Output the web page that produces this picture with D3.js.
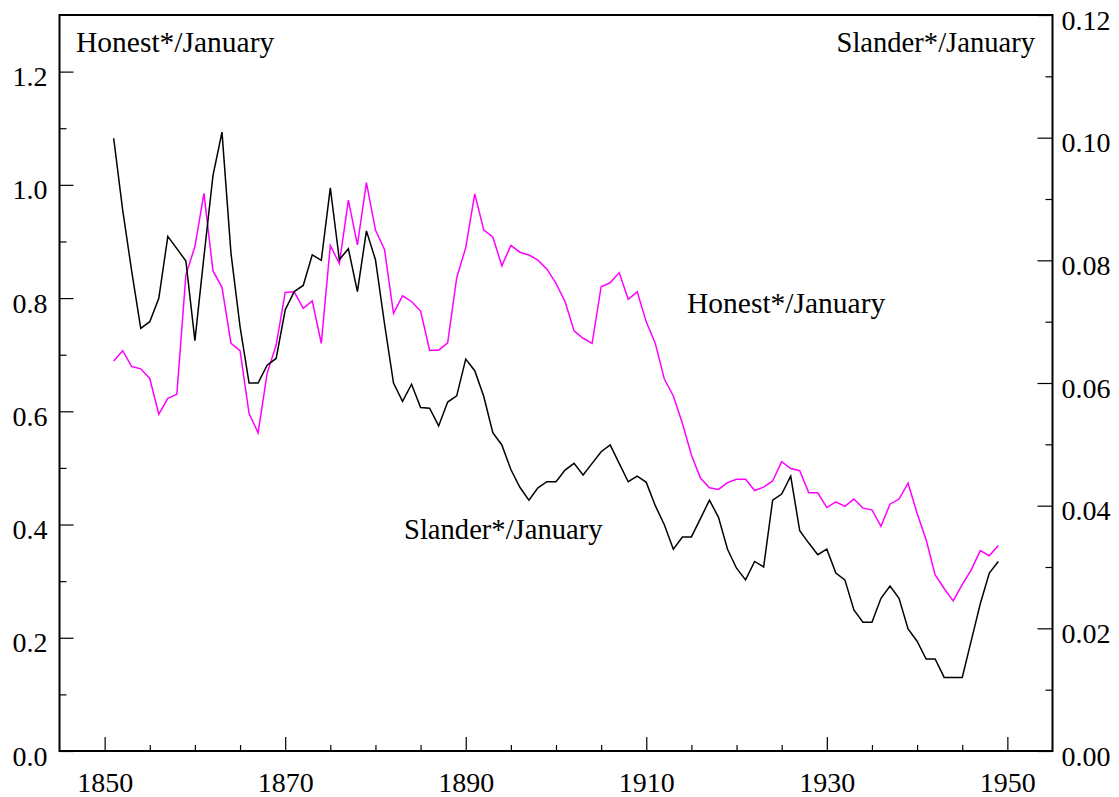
<!DOCTYPE html>
<html>
<head>
<meta charset="utf-8">
<script src="https://cdn.jsdelivr.net/npm/d3@7"></script>
<style>
  html, body { margin: 0; padding: 0; background: #fff; }
  svg { display: block; }
  text { font-family: "Liberation Serif", "Times New Roman", serif; fill: #000; }
</style>
</head>
<body>
<svg id="chart" width="1119" height="797"></svg>
<script>
// ---- data ----
const years = d3.range(1851, 1950);

// Honest*/January (left axis, magenta)
const honest = [
  0.689, 0.707, 0.679, 0.675, 0.658, 0.595, 0.623, 0.630, 0.841, 0.891,
  0.985, 0.848, 0.819, 0.720, 0.707, 0.596, 0.562, 0.667, 0.717, 0.810,
  0.811, 0.782, 0.795, 0.720, 0.893, 0.861, 0.973, 0.894, 1.004, 0.920,
  0.886, 0.773, 0.804, 0.794, 0.777, 0.708, 0.708, 0.721, 0.836, 0.889,
  0.984, 0.920, 0.908, 0.857, 0.893, 0.881, 0.876, 0.867, 0.851, 0.826,
  0.794, 0.742, 0.729, 0.720, 0.820, 0.827, 0.845, 0.798, 0.811, 0.758,
  0.720, 0.657, 0.627, 0.579, 0.523, 0.482, 0.465, 0.462, 0.474, 0.480,
  0.480, 0.460, 0.466, 0.477, 0.511, 0.499, 0.495, 0.456, 0.456, 0.430,
  0.440, 0.432, 0.445, 0.429, 0.426, 0.397, 0.436, 0.445, 0.473, 0.420,
  0.373, 0.311, 0.287, 0.265, 0.294, 0.320, 0.354, 0.345, 0.363
];

// Slander*/January (right axis, black)
const slander = [
  0.0999, 0.0882, 0.0782, 0.0689, 0.0700, 0.0738, 0.0839, 0.0819, 0.0799, 0.0669,
  0.0806, 0.0938, 0.1009, 0.0811, 0.0692, 0.0600, 0.0600, 0.0629, 0.0640, 0.0719,
  0.0749, 0.0759, 0.0809, 0.0800, 0.0918, 0.0801, 0.0819, 0.0749, 0.0848, 0.0801,
  0.0697, 0.0600, 0.0570, 0.0598, 0.0560, 0.0559, 0.0530, 0.0569, 0.0579, 0.0639,
  0.0620, 0.0578, 0.0519, 0.0499, 0.0459, 0.0430, 0.0409, 0.0429, 0.0439, 0.0439,
  0.0458, 0.0469, 0.0450, 0.0469, 0.0488, 0.0499, 0.0469, 0.0439, 0.0448, 0.0438,
  0.0400, 0.0369, 0.0329, 0.0349, 0.0349, 0.0379, 0.0409, 0.0381, 0.0329, 0.0298,
  0.0279, 0.0309, 0.0300, 0.0409, 0.0419, 0.0448, 0.0359, 0.0339, 0.0320, 0.0329,
  0.0290, 0.0279, 0.0230, 0.0210, 0.0210, 0.0249, 0.0269, 0.0249, 0.0199, 0.0179,
  0.0150, 0.0150, 0.0120, 0.0120, 0.0120, 0.0180, 0.0240, 0.0290, 0.0309
];

const xMajorTicks = [1850, 1870, 1890, 1910, 1930, 1950];
const xMinorTicks = [1855, 1860, 1865, 1875, 1880, 1885, 1895, 1900, 1905, 1915, 1920, 1925, 1935, 1940, 1945];
const leftMajorTicks = [0.0, 0.2, 0.4, 0.6, 0.8, 1.0, 1.2];
const leftMinorTicks = [0.1, 0.3, 0.5, 0.7, 0.9, 1.1];
const rightMajorTicks = [0.00, 0.02, 0.04, 0.06, 0.08, 0.10, 0.12];
const rightMinorTicks = [0.01, 0.03, 0.05, 0.07, 0.09, 0.11];

// ---- layout ----
const L = 59.5, R = 1052.5, T = 15, B = 751;
const svg = d3.select("#chart");

const x = d3.scaleLinear().domain([1845, 1955]).range([L, R]);
const yL = d3.scaleLinear().domain([0, 1.3]).range([B, T]);
const yR = d3.scaleLinear().domain([0, 0.12]).range([B, T]);

const tickFont = 28;
const honestFont = 29.5;
const slanderFont = 28.6;

// axes
function styleAxis(g) {
  g.select(".domain").remove();
  g.selectAll(".tick line").attr("stroke", "#000").attr("stroke-width", 1.2);
  g.selectAll(".tick text").attr("font-size", tickFont)
    .attr("font-family", "'Liberation Serif', 'Times New Roman', serif").attr("fill", "#000");
}

svg.append("g").attr("transform", `translate(0,${B})`)
  .call(d3.axisBottom(x).tickValues(xMajorTicks).tickSize(-14).tickPadding(21).tickFormat(d3.format("d")))
  .call(styleAxis);
svg.append("g").attr("transform", `translate(0,${B})`)
  .call(d3.axisBottom(x).tickValues(xMinorTicks).tickSize(-6).tickFormat(""))
  .call(styleAxis);

svg.append("g").attr("transform", `translate(${L},0)`)
  .call(d3.axisLeft(yL).tickValues(leftMajorTicks).tickSize(-14).tickPadding(12).tickFormat(d3.format(".1f")))
  .call(styleAxis)
  .call(g => g.selectAll(".tick text").attr("dy", "0.5em"));
svg.append("g").attr("transform", `translate(${L},0)`)
  .call(d3.axisLeft(yL).tickValues(leftMinorTicks).tickSize(-7).tickFormat(""))
  .call(styleAxis);

svg.append("g").attr("transform", `translate(${R},0)`)
  .call(d3.axisRight(yR).tickValues(rightMajorTicks).tickSize(-15).tickPadding(9).tickFormat(d3.format(".2f")))
  .call(styleAxis)
  .call(g => g.selectAll(".tick text").attr("dy", "0.5em"));
svg.append("g").attr("transform", `translate(${R},0)`)
  .call(d3.axisRight(yR).tickValues(rightMinorTicks).tickSize(-7).tickFormat(""))
  .call(styleAxis);

// lines
const lineL = d3.line().x((d, i) => x(years[i])).y(d => yL(d));
const lineR = d3.line().x((d, i) => x(years[i])).y(d => yR(d));

svg.append("path").datum(honest).attr("d", lineL)
  .attr("fill", "none").attr("stroke", "#ff00ff").attr("stroke-width", 1.5).attr("stroke-linejoin", "miter");
svg.append("path").datum(slander).attr("d", lineR)
  .attr("fill", "none").attr("stroke", "#000").attr("stroke-width", 1.5).attr("stroke-linejoin", "miter");

// frame
svg.append("rect").attr("x", L).attr("y", T).attr("width", R - L).attr("height", B - T)
  .attr("fill", "none").attr("stroke", "#000").attr("stroke-width", 2);

// labels
svg.append("text").attr("x", 76).attr("y", 52).attr("font-size", honestFont).text("Honest*/January");
svg.append("text").attr("x", 1035).attr("y", 52).attr("text-anchor", "end").attr("font-size", slanderFont).text("Slander*/January");
svg.append("text").attr("x", 687).attr("y", 313).attr("font-size", honestFont).text("Honest*/January");
svg.append("text").attr("x", 404).attr("y", 539).attr("font-size", slanderFont).text("Slander*/January");
</script>
</body>
</html>
